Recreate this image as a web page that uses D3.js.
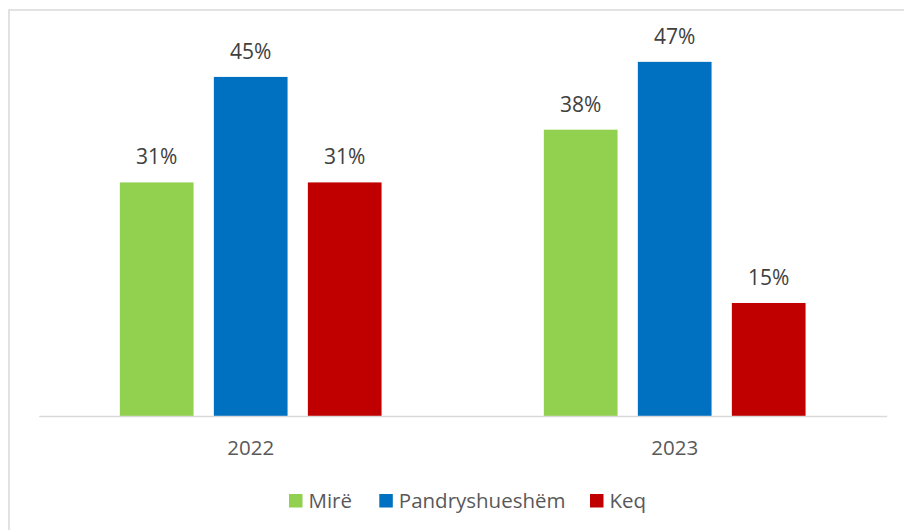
<!DOCTYPE html>
<html><head><meta charset="utf-8">
<script src="https://cdn.jsdelivr.net/npm/d3@7"></script>
<style>body{margin:0;background:#fff}svg{display:block}</style>
</head><body>
<script>
const categories = ["2022", "2023"];
const seriesNames = ["Mirë", "Pandryshueshëm", "Keq"];
const seriesColors = ["#92d050", "#0070c0", "#c00000"];
const values2022 = [31, 45, 31];
const values2023 = [38, 47, 15];
const valuesByCategory = [values2022, values2023];

const W = 904, H = 530;
const svg = d3.select("body").append("svg").attr("width", W).attr("height", H);
const font = "'Open Sans', sans-serif";

svg.append("rect").attr("x", 9).attr("y", 10).attr("width", 910).attr("height", 540)
  .attr("fill", "none").attr("stroke", "#d9d9d9").attr("stroke-width", 1.5);

const x0 = d3.scaleBand().domain(categories).range([38.7, 886.7]).paddingInner(0).paddingOuter(0);
const x1 = d3.scaleBand().domain(seriesNames).range([0, x0.bandwidth()]).paddingInner(0.216).paddingOuter(0.863);
const y = d3.scaleLinear().domain([0, 50]).range([416, 39.25]);

const groups = svg.selectAll("g.cat").data(categories).join("g")
  .attr("transform", d => `translate(${x0(d)},0)`);

groups.each(function(c, ci) {
  const g = d3.select(this);
  const vals = valuesByCategory[ci];
  g.selectAll("rect").data(vals).join("rect")
    .attr("x", (v, i) => x1(seriesNames[i]))
    .attr("width", x1.bandwidth())
    .attr("y", v => y(v))
    .attr("height", v => y(0) - y(v))
    .attr("fill", (v, i) => seriesColors[i]);
  g.selectAll("text.lbl").data(vals).join("text").attr("class", "lbl")
    .attr("x", (v, i) => x1(seriesNames[i]) + x1.bandwidth() / 2)
    .attr("y", v => y(v) - 18)
    .attr("text-anchor", "middle")
    .attr("font-family", font).attr("font-size", 21)
    .attr("fill", "#404040")
    .text(v => v + "%");
});

const xAxis = svg.append("g").attr("transform", `translate(0,${y(0)})`)
  .call(d3.axisBottom(x0).tickSize(0).tickPadding(0));
xAxis.select(".domain").attr("stroke", "#d9d9d9").attr("stroke-width", 1.5);
xAxis.selectAll("text").attr("font-family", font).attr("font-size", 20.5)
  .attr("fill", "#595959").attr("dy", null).attr("y", 39);

const legendX = [289, 379.3, 590];
const leg = svg.append("g");
seriesNames.forEach((n, i) => {
  leg.append("rect").attr("x", legendX[i]).attr("y", 494).attr("width", 13.5).attr("height", 13.5)
    .attr("fill", seriesColors[i]);
  leg.append("text").attr("x", legendX[i] + 19.5).attr("y", 507.5)
    .attr("font-family", font).attr("font-size", 20.5).attr("fill", "#595959").text(n);
});
</script>
</body></html>
